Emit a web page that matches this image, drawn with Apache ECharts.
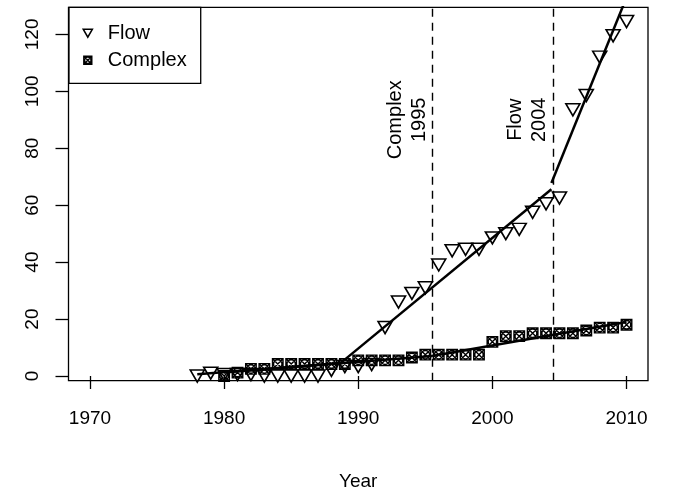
<!DOCTYPE html>
<html><head><meta charset="utf-8">
<script src="https://cdn.jsdelivr.net/npm/echarts@6/dist/echarts.min.js"></script>
<style>html,body{margin:0;padding:0;background:#fff}#c{width:675px;height:493px}</style>
</head><body><div id="c"></div>
<script>
// ---- data ----
const flowYears = [1978,1979,1980,1981,1982,1983,1984,1985,1986,1987,1988,1989,1990,1991,1992,1993,1994,1995,1996,1997,1998,1999,2000,2001,2002,2003,2004,2005,2006,2007,2008,2009,2010];
const flowValues = [0,1,0.5,0.5,0.5,0,0,0,0,0,2,3.3,3.3,4,17,26,29,31,39,44,44.5,44.5,48.5,50,51.5,57.5,60.5,62.5,93.5,98.5,112,119.5,124.5];
const complexYears = [1980,1981,1982,1983,1984,1985,1986,1987,1988,1989,1990,1991,1992,1993,1994,1995,1996,1997,1998,1999,2000,2001,2002,2003,2004,2005,2006,2007,2008,2009,2010];
const complexValues = [0,1.2,2.5,2.5,4.2,4.2,4.2,4.2,4.2,4.2,5.5,5.5,5.5,5.5,6.5,7.5,7.5,7.5,7.5,7.5,12,14,14,15,15,15,15,16,17,17,18];
// fitted segmented lines: [year, value] end points of each segment
const flowFit1 = [[1978,0.6],[1988.7,4.6]];
const flowFit2 = [[1988.7,4.6],[2004.4,65.6]];
const flowFit3 = [[2004.4,67.8],[2010,133]];
const complexFit1 = [[1980,1.2],[1995.5,7.0]];
const complexFit2 = [[1995.5,7.0],[2010,19.0]];
// breakpoints and their labels
const breakYears = [1995.5, 2004.5];
const breakLabels = ['Complex\n1995', 'Flow\n2004'];
const xTicks = [1970,1980,1990,2000,2010];
const yTicks = [0,20,40,60,80,100,120];

const FONT = '"Liberation Sans", Arial, Helvetica, sans-serif';
const FS = 19;
const triPath = 'path://M0,0L20,0L10,17.32Z';
const sqPath = 'path://M0,0H20V20H0Z M0,0L20,20 M20,0L0,20 M18,10A8,8 0 1 1 2,10A8,8 0 1 1 18,10Z';
const triLegend = 'path://M0,0M30,12M10.5,2L19.5,2L15,9.8Z';
const sqLegend = 'path://M0,0M30,12M11,2H19V10H11Z M11,2L19,10 M19,2L11,10 M18.2,6A3.2,3.2 0 1 1 11.8,6A3.2,3.2 0 1 1 18.2,6Z';

const zip = (xs, ys) => xs.map((x, i) => [x, ys[i]]);
const fitLine = (name, data) => ({
  name, type: 'line', data, symbol: 'none', silent: true, clip: true,
  lineStyle: {color: '#000', width: 2.5}, z: 4
});

const chart = echarts.init(document.getElementById('c'), null, {renderer: 'canvas'});
chart.setOption({
  animation: false,
  backgroundColor: '#fff',
  textStyle: {fontFamily: FONT},
  grid: {left: 68.5, right: 27, top: 7.3, bottom: 112.3, show: true, borderColor: '#000', borderWidth: 1.3, containLabel: false, outerBoundsMode: 'none'},
  xAxis: {
    type: 'value', min: 1968.4, max: 2011.6,
    name: 'Year', nameLocation: 'middle', nameGap: 92,
    nameTextStyle: {fontSize: FS, color: '#000', fontFamily: FONT},
    axisLine: {show: false},
    splitLine: {show: false},
    axisTick: {show: true, inside: false, length: 13, customValues: xTicks, lineStyle: {color: '#000', width: 1.3}},
    axisLabel: {show: true, margin: 29, customValues: xTicks, fontSize: FS, color: '#000', fontFamily: FONT, formatter: v => String(v)}
  },
  yAxis: {
    type: 'value', min: -1.65, max: 129.5,
    axisLine: {show: false},
    splitLine: {show: false},
    axisTick: {show: true, inside: false, length: 13, customValues: yTicks, lineStyle: {color: '#000', width: 1.3}},
    axisLabel: {show: true, rotate: 90, margin: 26, customValues: yTicks, fontSize: FS, color: '#000', fontFamily: FONT, formatter: v => String(v)}
  },
  legend: {
    left: 69, top: 7.3, orient: 'vertical',
    backgroundColor: '#fff', borderColor: '#000', borderWidth: 1.3, borderRadius: 0,
    padding: [16, 14, 13, 3], itemGap: 7, itemWidth: 30, itemHeight: 12,
    textStyle: {fontSize: 20, color: '#000', fontFamily: FONT},
    selectedMode: false,
    data: [
      {name: 'Flow', icon: triLegend, itemStyle: {color: 'rgba(0,0,0,0)', borderColor: '#000', borderWidth: 1.6, opacity: 1}},
      {name: 'Complex', icon: sqLegend, itemStyle: {color: 'rgba(0,0,0,0)', borderColor: '#000', borderWidth: 1.4, opacity: 1}}
    ]
  },
  series: [
    {name: 'Flow', type: 'scatter', data: zip(flowYears, flowValues), symbol: triPath, symbolSize: [14, 12],
     itemStyle: {color: 'rgba(0,0,0,0)', borderColor: '#000', borderWidth: 1.6, opacity: 1}, z: 3},
    {name: 'Complex', type: 'scatter', data: zip(complexYears, complexValues), symbol: sqPath, symbolSize: [10.5, 10.5],
     itemStyle: {color: 'rgba(0,0,0,0)', borderColor: '#000', borderWidth: 1.4, opacity: 1}, z: 3},
    fitLine('flowFit1', flowFit1),
    fitLine('flowFit2', flowFit2),
    fitLine('flowFit3', flowFit3),
    fitLine('complexFit1', complexFit1),
    fitLine('complexFit2', complexFit2),
    {
      name: 'breaks', type: 'line', data: [], silent: true,
      markLine: {
        silent: true, symbol: ['none', 'none'], label: {show: false},
        lineStyle: {color: '#000', type: [8, 6], width: 1.4},
        data: breakYears.map(x => ({xAxis: x}))
      }
    }
  ]
});

// rotated annotation text next to each breakpoint line
const labelY = 90;
chart.setOption({
  graphic: breakYears.map((bx, i) => {
    const p = chart.convertToPixel({gridIndex: 0}, [bx, labelY]);
    return {
      type: 'text', x: p[0] - 25, y: p[1], rotation: Math.PI / 2, z: 10,
      style: {text: breakLabels[i], font: '20px ' + FONT, fill: '#000', align: 'center', verticalAlign: 'middle', lineHeight: 24}
    };
  })
});
</script></body></html>
